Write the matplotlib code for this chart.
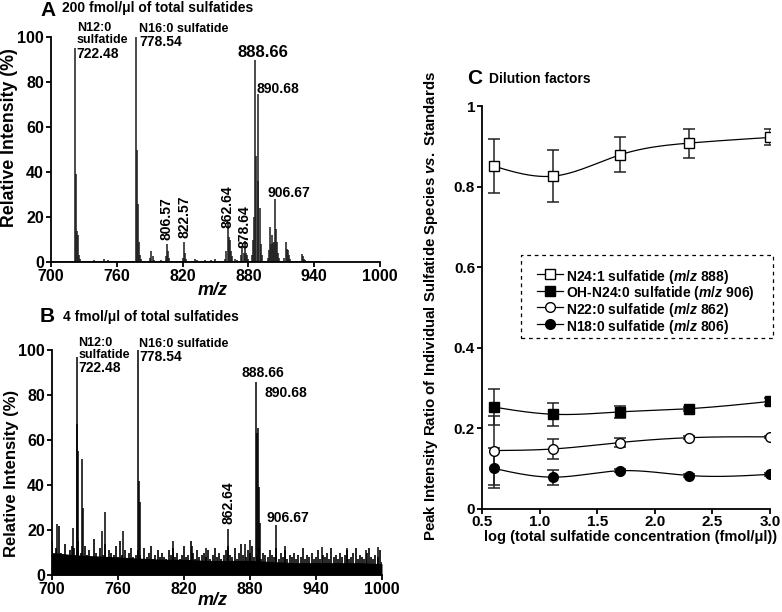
import numpy as np
import matplotlib
matplotlib.use("Agg")
import matplotlib.pyplot as plt
from matplotlib.lines import Line2D
from matplotlib.patches import Rectangle

plt.rcParams['font.family'] = ['Liberation Sans', 'DejaVu Sans']
plt.rcParams['font.weight'] = 'bold'
plt.rcParams['axes.labelweight'] = 'bold'
plt.rcParams['mathtext.fontset'] = 'custom'
plt.rcParams['mathtext.rm'] = 'Liberation Sans:bold'
plt.rcParams['mathtext.it'] = 'Liberation Sans:italic:bold'
plt.rcParams['mathtext.bf'] = 'Liberation Sans:bold'

# ---------------- Panel A: 200 fmol/ul spectrum (m/z, relative intensity %)
a_mz = [721.8, 722.6, 723.6, 724.5, 725.5, 726.5,
        735.0, 739.0, 748.0, 752.0, 758.0, 766.0,
        777.4, 778.3, 779.2, 780.1, 781.1, 782.1,
        790.5, 791.6, 792.6, 793.6,
        800.0, 804.5, 805.5, 806.5, 807.5,
        820.6, 821.5, 822.5, 823.5, 831.0, 833.0, 840.0, 846.0, 850.0,
        858.5, 859.8, 861.1, 862.1, 863.1, 864.1, 865.0, 868.0, 870.0,
        873.5, 874.6, 875.6, 876.8, 877.8, 878.8, 879.8,
        883.3, 884.3, 885.3, 886.3, 887.2, 888.3, 889.2, 890.2, 891.2, 892.2,
        897.5, 898.6, 899.5, 900.5, 901.5, 902.5, 903.4, 904.2, 905.1, 906.1, 907.1, 908.1,
        912.5, 914.0, 915.0, 916.0, 917.0, 918.0,
        928.5, 929.5, 930.5, 931.5]
a_int = [95, 39, 14, 12, 3, 1.5,
         0.6, 0.8, 1.2, 0.8, 0.5, 0.6,
         100, 50, 26, 9, 3, 1.5,
         2, 5, 2.5, 1,
         0.8, 2.5, 8, 5, 2,
         2, 9, 4, 1.5, 1.5, 1, 0.8, 1, 1.2,
         1.5, 5, 18, 11, 10, 5, 2.5, 1.5, 1,
         3, 7.3, 4, 9.5, 4, 3, 1.5,
         3, 10, 20, 90, 47, 74.5, 36, 24, 8, 3,
         2, 5.5, 15.5, 8, 12, 8.5, 9, 28, 14.5, 9, 4, 2,
         2, 9, 6, 5.5, 3, 1.5,
         3.5, 2.5, 1.5, 1]
a_baseline = 0.4

# ---------------- Panel B: 4 fmol/ul spectrum
b_mz = [704.8, 719.4, 722.4, 723.0, 723.8, 727.0, 727.8, 745.0, 748.5, 764.2,
        777.9, 778.7, 779.6, 810.0, 827.0, 840.0, 860.3, 875.5, 880.0,
        885.5, 886.6, 887.6, 888.4, 889.3, 903.6, 911.8, 945.7, 968.0, 985.0, 996.0]
b_int = [22.5, 21, 97, 67, 55, 51.5, 30, 19.5, 28, 19.5,
         100, 42, 32.5, 15, 13, 12, 20.4, 14, 15.6,
         85.6, 63, 65.2, 39, 23, 22.2, 13, 12.5, 12, 11, 12.4]
b_noise_mz = list(range(700, 1001, 2))
b_noise = [15, 8, 12, 22, 10, 9, 14, 7, 11, 13,
           12, 9, 15, 10, 8, 13, 9, 11, 7, 16,
           10, 8, 12, 9, 14, 8, 11, 10, 9, 13,
           8, 15, 9, 11, 7, 10, 12, 8, 9, 11,
           9, 7, 12, 8, 10, 13, 7, 9, 11, 8,
           10, 8, 7, 11, 9, 12, 8, 10, 7, 9,
           13, 8, 9, 15, 10, 7, 11, 8, 9, 10,
           8, 11, 7, 9, 12, 8, 10, 7, 9, 11,
           13, 9, 8, 12, 7, 10, 14, 9, 8, 11,
           10, 13, 8, 9, 12, 7, 10, 9, 8, 11,
           9, 8, 12, 7, 10, 8, 11, 7, 9, 8,
           10, 7, 9, 8, 12, 7, 9, 8, 10, 7,
           8, 11, 7, 9, 8, 10, 7, 12, 8, 9,
           7, 10, 8, 9, 11, 7, 8, 10, 12, 7,
           9, 8, 7, 10, 12, 8, 7, 9, 8, 11,
           6]
b_core_mz = [700, 720, 740, 760, 780, 800, 820, 840, 860, 880, 900, 920, 940, 960, 980, 1000]
b_core = [10, 9, 8.5, 8, 7.5, 7, 7, 6.5, 6.5, 6.5, 6, 5.5, 5.5, 5.5, 5.5, 5]

mz_ticks = [700, 760, 820, 880, 940, 1000]
int_ticks = [0, 20, 40, 60, 80, 100]

# ---------------- Panel C: dilution factors
c_x = [0.60, 1.12, 1.70, 2.30, 3.00]
c_n241 = [0.851, 0.826, 0.879, 0.908, 0.922]
c_n241_err = [0.068, 0.064, 0.043, 0.036, 0.020]
c_oh240 = [0.253, 0.235, 0.241, 0.249, 0.267]
c_oh240_err = [0.044, 0.028, 0.014, 0.005, 0.009]
c_n220 = [0.145, 0.149, 0.165, 0.177, 0.179]
c_n220_err = [0.085, 0.025, 0.011, 0.003, 0.003]
c_n180 = [0.101, 0.079, 0.095, 0.083, 0.086]
c_n180_err = [0.050, 0.019, 0.004, 0.003, 0.003]
c_labels = ["N24:1 sulfatide ($m/z$ 888)", "OH-N24:0 sulfatide ($m/z$ 906)",
            "N22:0 sulfatide ($m/z$ 862)", "N18:0 sulfatide ($m/z$ 806)"]
c_xticks = [0.5, 1.0, 1.5, 2.0, 2.5, 3.0]
c_yticks = [0, 0.2, 0.4, 0.6, 0.8, 1.0]
c_yticklabels = ["0", "0.2", "0.4", "0.6", "0.8", "1"]


def natural_spline(x, y, n=200):
    x = np.asarray(x, float)
    y = np.asarray(y, float)
    m = len(x)
    h = np.diff(x)
    A = np.zeros((m, m))
    r = np.zeros(m)
    A[0, 0] = 1
    A[-1, -1] = 1
    for i in range(1, m - 1):
        A[i, i - 1] = h[i - 1]
        A[i, i] = 2 * (h[i - 1] + h[i])
        A[i, i + 1] = h[i]
        r[i] = 3 * ((y[i + 1] - y[i]) / h[i] - (y[i] - y[i - 1]) / h[i - 1])
    c = np.linalg.solve(A, r)
    b = (y[1:] - y[:-1]) / h - h * (2 * c[:-1] + c[1:]) / 3
    d = (c[1:] - c[:-1]) / (3 * h)
    xs = np.linspace(x[0], x[-1], n)
    idx = np.clip(np.searchsorted(x, xs) - 1, 0, m - 2)
    dx = xs - x[idx]
    ys = y[idx] + b[idx] * dx + c[idx] * dx ** 2 + d[idx] * dx ** 3
    return xs, ys


W, H = 782, 612
fig = plt.figure(figsize=(W / 100, H / 100), dpi=100)


def fx(px):
    return px / W


def fy(py):
    return 1 - py / H


def style_spectrum(ax):
    ax.set_xlim(700, 1000)
    ax.set_ylim(0, 100)
    ax.set_xticks(mz_ticks)
    ax.set_yticks(int_ticks)
    for s in ['top', 'right']:
        ax.spines[s].set_visible(False)
    for s in ['left', 'bottom']:
        ax.spines[s].set_linewidth(1.3)
    ax.tick_params(direction='out', length=3.5, width=1.3, pad=1.5, labelsize=11.5)
    for lab in ax.get_xticklabels() + ax.get_yticklabels():
        lab.set_fontweight('bold')


NS = 9      # name labels
NN = 10     # number labels

# ---- Panel A
axA = fig.add_axes([fx(51), fy(262), 329 / W, 225 / H])
axA.plot([700, 945], [a_baseline, a_baseline], color='#222222', lw=0.6)
axA.vlines(a_mz, 0, a_int, color='#1a1a1a', lw=1.1)
style_spectrum(axA)
axA.set_ylabel("Relative Intensity (%)", fontsize=12.8)
axA.yaxis.set_label_coords(-0.10, 0.555)
axA.set_xlabel("m/z", fontsize=13, style='italic')
axA.xaxis.set_label_coords(0.492, -0.09)
axA.text(723.4, 106.6, "N12:0\nsulfatide", ha='left', va='top', fontsize=NS, linespacing=1.0, clip_on=False)
axA.text(723.4, 90.8, "722.48", ha='left', va='baseline', fontsize=NN)
axA.text(780.5, 106.2, "N16:0 sulfatide", ha='left', va='top', fontsize=NS, clip_on=False)
axA.text(780.5, 96.0, "778.54", ha='left', va='baseline', fontsize=NN)
axA.text(893.3, 91.1, "888.66", ha='center', va='baseline', fontsize=12)
axA.text(887.5, 75.1, "890.68", ha='left', va='baseline', fontsize=NN)
axA.text(917.0, 28.9, "906.67", ha='center', va='baseline', fontsize=NN)
axA.text(861.1, 15.1, "862.64", ha='center', va='bottom', rotation=90, fontsize=NN)
axA.text(876.8, 6.2, "878.64", ha='center', va='bottom', rotation=90, fontsize=NN)
axA.text(805.5, 9.8, "806.57", ha='center', va='bottom', rotation=90, fontsize=NN)
axA.text(821.5, 10.7, "822.57", ha='center', va='bottom', rotation=90, fontsize=NN)
fig.text(fx(40), fy(10), "A", fontsize=15, va='center', ha='left')
fig.text(fx(62), fy(8), "200 fmol/\u03bcl of total sulfatides", fontsize=10, va='center', ha='left')

# ---- Panel B
axB = fig.add_axes([fx(52), fy(575), 330 / W, 225 / H])
axB.fill_between(b_core_mz, 0, b_core, color='black', lw=0)
axB.vlines(b_noise_mz, 0, b_noise, color='black', lw=1.2)
axB.vlines(b_mz, 0, b_int, color='black', lw=1.1)
style_spectrum(axB)
axB.set_ylabel("Relative Intensity (%)", fontsize=12)
axB.yaxis.set_label_coords(-0.10, 0.45)
axB.set_xlabel("m/z", fontsize=13, style='italic')
axB.xaxis.set_label_coords(0.488, -0.075)
axB.text(723.9, 105.6, "N12:0\nsulfatide", ha='left', va='top', fontsize=NS, linespacing=1.0, clip_on=False)
axB.text(723.9, 90.0, "722.48", ha='left', va='baseline', fontsize=NN)
axB.text(779.4, 105.4, "N16:0 sulfatide", ha='left', va='top', fontsize=NS, clip_on=False)
axB.text(779.4, 95.2, "778.54", ha='left', va='baseline', fontsize=NN)
axB.text(892.1, 87.9, "888.66", ha='center', va='baseline', fontsize=NN)
axB.text(893.6, 79.3, "890.68", ha='left', va='baseline', fontsize=NN)
axB.text(914.8, 23.7, "906.67", ha='center', va='baseline', fontsize=NN)
axB.text(860.3, 22.5, "862.64", ha='center', va='bottom', rotation=90, fontsize=NN)
fig.text(fx(40), fy(316), "B", fontsize=15, va='center', ha='left')
fig.text(fx(63), fy(317), "4 fmol/\u03bcl of total sulfatides", fontsize=10, va='center', ha='left')

# ---- Panel C
axC = fig.add_axes([fx(482), fy(509), 288 / W, 403 / H])
series = [
    (c_n241, c_n241_err, 's', 'white'),
    (c_oh240, c_oh240_err, 's', 'black'),
    (c_n220, c_n220_err, 'o', 'white'),
    (c_n180, c_n180_err, 'o', 'black'),
]
for vals, errs, mk, fc in series:
    xs, ys = natural_spline(c_x, vals)
    axC.plot(xs, ys, color='black', lw=0.9, zorder=2)
    axC.errorbar(c_x, vals, yerr=errs, fmt='none', ecolor='#222222', elinewidth=1.1,
                 capsize=4, capthick=1.1, zorder=3)
    axC.plot(c_x, vals, ls='none', marker=mk, ms=7, mfc=fc, mec='black', mew=1.0, zorder=4)

axC.set_xlim(0.5, 3.0)
axC.set_ylim(0, 1.0)
axC.set_xticks(c_xticks)
axC.set_xticklabels([f"{v:.1f}" for v in c_xticks])
axC.set_yticks(c_yticks)
axC.set_yticklabels(c_yticklabels)
for s in ['top', 'right']:
    axC.spines[s].set_visible(False)
for s in ['left', 'bottom']:
    axC.spines[s].set_linewidth(1.3)
axC.tick_params(direction='out', length=3.5, width=1.3, pad=0.5, labelsize=11)
axC.tick_params(axis='y', pad=1.5)
for lab in axC.get_xticklabels() + axC.get_yticklabels():
    lab.set_fontweight('bold')
axC.set_ylabel("Peak Intensity Ratio of Individual Sulfatide Species $vs.$ Standards", fontsize=10.8)
axC.yaxis.set_label_coords(-0.145, 0.505)
axC.set_xlabel("log (total sulfatide concentration (fmol/\u03bcl))", fontsize=10.5)
axC.xaxis.set_label_coords(0.515, -0.052)

# manual legend (dashed box)
fig.patches.append(Rectangle((fx(521), fy(338)), (773 - 521) / W, (338 - 255) / H,
                             transform=fig.transFigure, fill=True, facecolor='white',
                             edgecolor='black', lw=0.9, ls=(0, (3, 3)), zorder=5))
row_y = [274, 290.7, 307.3, 324.3]
for (vals, errs, mk, fc), lab, ry in zip(series, c_labels, row_y):
    fig.add_artist(Line2D([fx(536.7), fx(562.7)], [fy(ry), fy(ry)], transform=fig.transFigure,
                          color='black', lw=0.9, zorder=6))
    fig.add_artist(Line2D([fx(549.7)], [fy(ry)], transform=fig.transFigure, ls='none',
                          marker=mk, ms=7, mfc=fc, mec='black', mew=1.0, zorder=7))
    fig.text(fx(566), fy(ry), lab, fontsize=10, ha='left', va='center_baseline', zorder=7)

fig.text(fx(467), fy(79), "C", fontsize=15, va='center', ha='left')
fig.text(fx(489), fy(79), "Dilution factors", fontsize=10, va='center', ha='left')

fig.savefig("out.png", dpi=100)
